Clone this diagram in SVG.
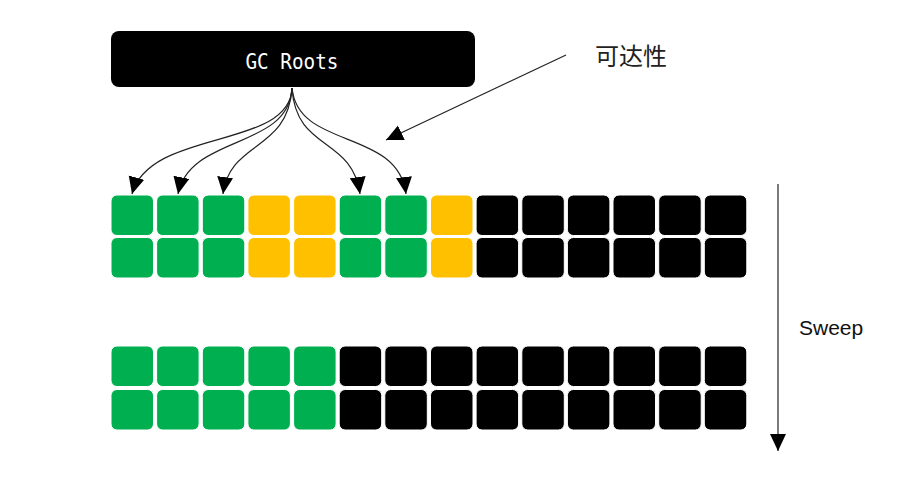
<svg xmlns="http://www.w3.org/2000/svg" width="908" height="486" viewBox="0 0 908 486">
<defs>
<style>
.c{stroke:#ffffff;stroke-width:1}
.g{fill:#00B050}
.y{fill:#FFC000}
.b{fill:#000000}
.lnk{fill:none;stroke:#222;stroke-width:1.2}
</style>
<marker id="ah" markerUnits="userSpaceOnUse" markerWidth="19" markerHeight="17" refX="17" refY="8" orient="auto" viewBox="0 0 19 17">
<path d="M0,0 L17,8 L0,16 z" fill="#000"/>
</marker>
</defs>
<rect width="908" height="486" fill="#fff"/>

<g id="gc-roots">
<rect x="111" y="31" width="364" height="56" rx="8" fill="#000"/>
<text x="245.5" y="68.5" font-family="DejaVu Sans Mono, monospace" font-size="21" fill="#fff" textLength="93" lengthAdjust="spacingAndGlyphs">GC Roots</text>
</g>

<g id="label-reach">
<text x="595" y="65" font-family="Noto Sans CJK SC, sans-serif" font-size="24" fill="#222">可达性</text>
</g>

<g id="label-sweep">
<text x="799" y="335" font-family="Liberation Sans, Arial, sans-serif" font-size="21" fill="#111">Sweep</text>
</g>

<g id="heap-before">
<rect class="c g" x="111" y="195" width="42.5" height="40.5" rx="6"/>
<rect class="c g" x="156.6" y="195" width="42.5" height="40.5" rx="6"/>
<rect class="c g" x="202.3" y="195" width="42.5" height="40.5" rx="6"/>
<rect class="c y" x="247.9" y="195" width="42.5" height="40.5" rx="6"/>
<rect class="c y" x="293.6" y="195" width="42.5" height="40.5" rx="6"/>
<rect class="c g" x="339.2" y="195" width="42.5" height="40.5" rx="6"/>
<rect class="c g" x="384.8" y="195" width="42.5" height="40.5" rx="6"/>
<rect class="c y" x="430.5" y="195" width="42.5" height="40.5" rx="6"/>
<rect class="c b" x="476.1" y="195" width="42.5" height="40.5" rx="6"/>
<rect class="c b" x="521.8" y="195" width="42.5" height="40.5" rx="6"/>
<rect class="c b" x="567.4" y="195" width="42.5" height="40.5" rx="6"/>
<rect class="c b" x="613" y="195" width="42.5" height="40.5" rx="6"/>
<rect class="c b" x="658.7" y="195" width="42.5" height="40.5" rx="6"/>
<rect class="c b" x="704.3" y="195" width="42.5" height="40.5" rx="6"/>

<rect class="c g" x="111" y="237.5" width="42.5" height="40.5" rx="6"/>
<rect class="c g" x="156.6" y="237.5" width="42.5" height="40.5" rx="6"/>
<rect class="c g" x="202.3" y="237.5" width="42.5" height="40.5" rx="6"/>
<rect class="c y" x="247.9" y="237.5" width="42.5" height="40.5" rx="6"/>
<rect class="c y" x="293.6" y="237.5" width="42.5" height="40.5" rx="6"/>
<rect class="c g" x="339.2" y="237.5" width="42.5" height="40.5" rx="6"/>
<rect class="c g" x="384.8" y="237.5" width="42.5" height="40.5" rx="6"/>
<rect class="c y" x="430.5" y="237.5" width="42.5" height="40.5" rx="6"/>
<rect class="c b" x="476.1" y="237.5" width="42.5" height="40.5" rx="6"/>
<rect class="c b" x="521.8" y="237.5" width="42.5" height="40.5" rx="6"/>
<rect class="c b" x="567.4" y="237.5" width="42.5" height="40.5" rx="6"/>
<rect class="c b" x="613" y="237.5" width="42.5" height="40.5" rx="6"/>
<rect class="c b" x="658.7" y="237.5" width="42.5" height="40.5" rx="6"/>
<rect class="c b" x="704.3" y="237.5" width="42.5" height="40.5" rx="6"/>
</g>

<g id="heap-after">
<rect class="c g" x="111" y="346" width="42.5" height="40.5" rx="6"/>
<rect class="c g" x="156.6" y="346" width="42.5" height="40.5" rx="6"/>
<rect class="c g" x="202.3" y="346" width="42.5" height="40.5" rx="6"/>
<rect class="c g" x="247.9" y="346" width="42.5" height="40.5" rx="6"/>
<rect class="c g" x="293.6" y="346" width="42.5" height="40.5" rx="6"/>
<rect class="c b" x="339.2" y="346" width="42.5" height="40.5" rx="6"/>
<rect class="c b" x="384.8" y="346" width="42.5" height="40.5" rx="6"/>
<rect class="c b" x="430.5" y="346" width="42.5" height="40.5" rx="6"/>
<rect class="c b" x="476.1" y="346" width="42.5" height="40.5" rx="6"/>
<rect class="c b" x="521.8" y="346" width="42.5" height="40.5" rx="6"/>
<rect class="c b" x="567.4" y="346" width="42.5" height="40.5" rx="6"/>
<rect class="c b" x="613" y="346" width="42.5" height="40.5" rx="6"/>
<rect class="c b" x="658.7" y="346" width="42.5" height="40.5" rx="6"/>
<rect class="c b" x="704.3" y="346" width="42.5" height="40.5" rx="6"/>

<rect class="c g" x="111" y="389.5" width="42.5" height="40.5" rx="6"/>
<rect class="c g" x="156.6" y="389.5" width="42.5" height="40.5" rx="6"/>
<rect class="c g" x="202.3" y="389.5" width="42.5" height="40.5" rx="6"/>
<rect class="c g" x="247.9" y="389.5" width="42.5" height="40.5" rx="6"/>
<rect class="c g" x="293.6" y="389.5" width="42.5" height="40.5" rx="6"/>
<rect class="c b" x="339.2" y="389.5" width="42.5" height="40.5" rx="6"/>
<rect class="c b" x="384.8" y="389.5" width="42.5" height="40.5" rx="6"/>
<rect class="c b" x="430.5" y="389.5" width="42.5" height="40.5" rx="6"/>
<rect class="c b" x="476.1" y="389.5" width="42.5" height="40.5" rx="6"/>
<rect class="c b" x="521.8" y="389.5" width="42.5" height="40.5" rx="6"/>
<rect class="c b" x="567.4" y="389.5" width="42.5" height="40.5" rx="6"/>
<rect class="c b" x="613" y="389.5" width="42.5" height="40.5" rx="6"/>
<rect class="c b" x="658.7" y="389.5" width="42.5" height="40.5" rx="6"/>
<rect class="c b" x="704.3" y="389.5" width="42.5" height="40.5" rx="6"/>
</g>

<g id="connectors">
<path class="lnk" d="M292,88 C290,150 150,128 132,194" marker-end="url(#ah)"/>
<path class="lnk" d="M292,88 C289,150 190,134 178,194" marker-end="url(#ah)"/>
<path class="lnk" d="M292,88 C288,152 230,140 223,194" marker-end="url(#ah)"/>
<path class="lnk" d="M292,88 C296,152 352,136 360,194" marker-end="url(#ah)"/>
<path class="lnk" d="M292,88 C298,150 398,128 406,194" marker-end="url(#ah)"/>
<path class="lnk" d="M566,55 L386,140" stroke="#444" marker-end="url(#ah)"/>
<path class="lnk" d="M778,184 L778,451" stroke="#444" marker-end="url(#ah)"/>
</g>
</svg>
